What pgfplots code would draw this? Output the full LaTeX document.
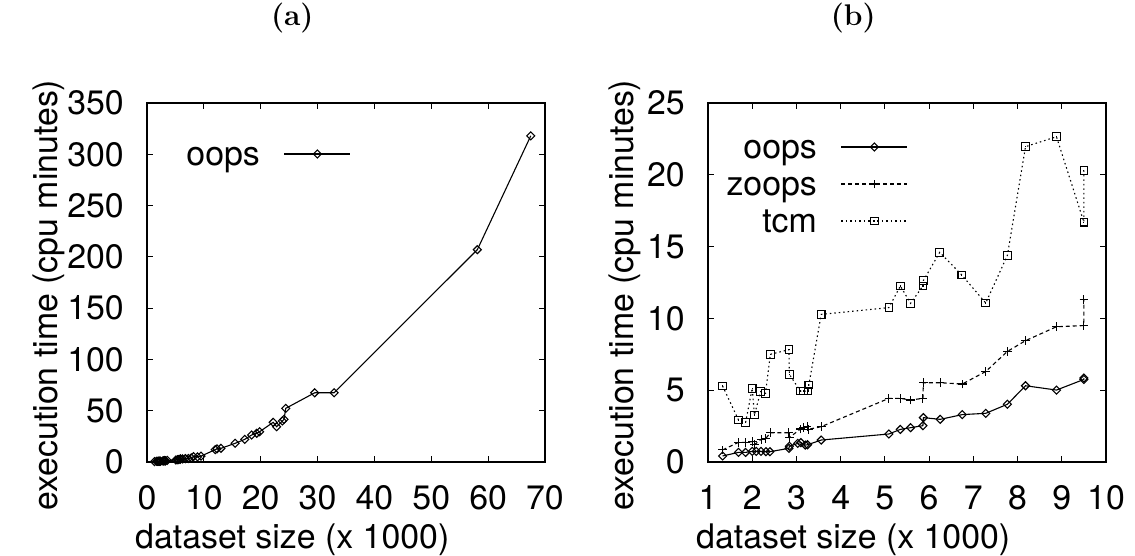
\documentclass[border=0pt]{standalone}
\usepackage{pgfplots}
\pgfplotsset{compat=1.18}
\usepackage{fontspec}
\newfontfamily\hv{TeX Gyre Heros}
\pgfdeclareplotmark{gpdiamond}{%
  \pgfpathmoveto{\pgfqpoint{0pt}{\pgfplotmarksize}}%
  \pgfpathlineto{\pgfqpoint{\pgfplotmarksize}{0pt}}%
  \pgfpathlineto{\pgfqpoint{0pt}{-\pgfplotmarksize}}%
  \pgfpathlineto{\pgfqpoint{-\pgfplotmarksize}{0pt}}%
  \pgfpathclose\pgfusepathqstroke}
\pgfdeclareplotmark{sqdot}{%
  \pgfpathrectangle{\pgfpoint{-\pgfplotmarksize}{-\pgfplotmarksize}}{\pgfpoint{2\pgfplotmarksize}{2\pgfplotmarksize}}%
  \pgfusepathqstroke
  \pgfpathrectangle{\pgfpoint{-0.6bp}{-0.6bp}}{\pgfpoint{1.2bp}{1.2bp}}%
  \pgfusepathqfill}
\pgfdeclareplotmark{gpplus}{%
  \pgfpathmoveto{\pgfqpoint{-\pgfplotmarksize}{0pt}}\pgfpathlineto{\pgfqpoint{\pgfplotmarksize}{0pt}}%
  \pgfpathmoveto{\pgfqpoint{0pt}{-\pgfplotmarksize}}\pgfpathlineto{\pgfqpoint{0pt}{\pgfplotmarksize}}%
  \pgfusepathqstroke}

\pgfplotstableread{
x y
1.33 0.42
1.69 0.67
1.85 0.67
2.0 0.74
2.09 0.74
2.2 0.74
2.31 0.72
2.4 0.72
2.83 0.95
2.84 1.1
3.03 1.3
3.1 1.35
3.2 1.18
3.25 1.2
3.56 1.53
5.09 1.95
5.35 2.27
5.58 2.39
5.86 2.53
5.87 3.09
6.25 2.97
6.75 3.3
7.28 3.39
7.77 4.02
8.18 5.31
8.88 5.01
9.5 5.75
9.5 5.85
}\oopsb

\pgfplotstableread{
x y
1.33 0.84
1.69 1.37
1.85 1.37
2.0 1.42
2.05 1.2
2.2 1.58
2.31 1.65
2.41 2.04
2.83 2.04
2.84 1.7
3.09 2.3
3.16 2.42
3.24 2.46
3.28 2.28
3.56 2.46
5.09 4.43
5.35 4.43
5.58 4.32
5.86 4.43
5.87 5.52
6.25 5.52
6.75 5.43
7.28 6.3
7.77 7.7
8.18 8.45
8.88 9.42
9.5 9.5
9.5 11.3
}\zoopsb

\pgfplotstableread{
x y
1.33 5.29
1.69 2.92
1.85 2.76
2.0 5.13
2.05 3.27
2.19 4.9
2.3 4.78
2.41 7.5
2.83 7.82
2.84 6.1
3.09 4.94
3.16 4.94
3.26 4.94
3.28 5.36
3.56 10.28
5.09 10.75
5.35 12.26
5.58 11.05
5.86 12.26
5.87 12.63
6.24 14.6
6.74 13.02
7.28 11.07
7.77 14.39
8.18 21.96
8.88 22.65
9.5 16.7
9.5 20.3
}\tcmb

\pgfplotstableread{
x y
1.33 0.42
1.69 0.67
1.85 0.67
2.0 0.74
2.09 0.74
2.2 0.74
2.31 0.72
2.4 0.72
2.83 0.95
2.84 1.1
3.03 1.3
3.1 1.35
3.2 1.18
3.25 1.2
3.56 1.53
5.09 1.95
5.35 2.27
5.58 2.39
5.86 2.53
5.87 3.09
6.25 2.97
6.75 3.3
7.28 3.39
7.77 4.02
8.18 5.31
8.88 5.01
9.5 5.75
12.0 12.0
12.3 12.8
13.0 13.3
15.5 18.2
17.2 22.1
18.4 26.3
19.3 28.0
19.8 29.5
22.2 38.7
22.8 34.4
23.8 40.0
24.1 41.6
24.4 52.3
29.5 67.5
32.9 67.5
58.1 207
67.5 318
}\oopsa

\begin{document}
\begin{tikzpicture}
\path[use as bounding box] (-147bp,-94bp) rectangle (988bp,462bp);
\pgfplotsset{
  gp/.style={
    scale only axis, width=398bp, height=359bp,
    clip=false,
    axis line style={line width=1.2bp, black},
    tick align=inside, major tick length=6bp,
    every tick/.style={line width=1bp, black},
    /pgf/number format/assume math mode=true,
    tick label style={font=\hv\fontsize{34}{40}\selectfont},
    x tick label style={anchor=base, yshift=-47bp, inner sep=0pt},
    y tick label style={anchor=east, xshift=-23bp, inner sep=0pt},
    label style={font=\hv\fontsize{34}{40}\selectfont, inner sep=0pt},
    xlabel style={at={(axis description cs:0.365,-0.242)}, anchor=base},
    title style={at={(axis description cs:0.365,1.198)}, anchor=base, inner sep=0pt, font=\fontsize{30}{36}\selectfont\bfseries},
    legend style={draw=none, fill=none, inner sep=0pt, outer sep=0pt,
      column sep=24bp, row sep=5bp, font=\hv\fontsize{34}{40}\selectfont,
      nodes={inner sep=0pt, text height=27bp, text depth=5bp}},
    legend cell align=right,
    legend plot pos=right,
    legend image code/.code={\draw[mark repeat=2,mark phase=2,##1] plot coordinates {(0bp,0bp) (33bp,0bp) (66bp,0bp)};},
    xlabel={dataset size (x 1000)},
    ylabel={execution time (cpu minutes)},
  },
  oopsst/.style={black, line width=1.1bp, mark=gpdiamond, mark size=4bp, mark options={solid, line width=1.1bp}},
  zoopsst/.style={black, line width=1.1bp, dash pattern=on 4bp off 3bp, mark=gpplus, mark size=4.3bp, mark options={solid, line width=1.1bp}},
  tcmst/.style={black, line width=1.1bp, dash pattern=on 1.5bp off 3bp, mark=sqdot, mark size=3.8bp, mark options={solid, line width=1.1bp}},
}
\begin{axis}[gp,
  at={(0bp,0bp)}, anchor=south west,
  xmin=0, xmax=70, ymin=0, ymax=350,
  xtick={0,10,...,70}, ytick={0,50,...,350},
  title={(a)},
  ylabel style={at={(axis description cs:-0.226,0.465)}, anchor=base},
  legend style={at={(axis description cs:0.5126,0.9025)}, anchor=north east},
]
\addplot[oopsst] table[x=x,y=y] {\oopsa};
\addlegendentry{oops}
\end{axis}
\begin{axis}[gp,
  at={(561bp,0bp)}, anchor=south west,
  xmin=1, xmax=10, ymin=0, ymax=25,
  xtick={1,2,...,10}, ytick={0,5,...,25},
  title={(b)},
  ylabel style={at={(axis description cs:-0.186,0.465)}, anchor=base},
  legend style={at={(axis description cs:0.5025,0.922)}, anchor=north east},
]
\addplot[oopsst] table[x=x,y=y] {\oopsb};
\addlegendentry{oops}
\addplot[zoopsst] table[x=x,y=y] {\zoopsb};
\addlegendentry{zoops}
\addplot[tcmst] table[x=x,y=y] {\tcmb};
\addlegendentry{tcm}
\end{axis}
\end{tikzpicture}
\end{document}
